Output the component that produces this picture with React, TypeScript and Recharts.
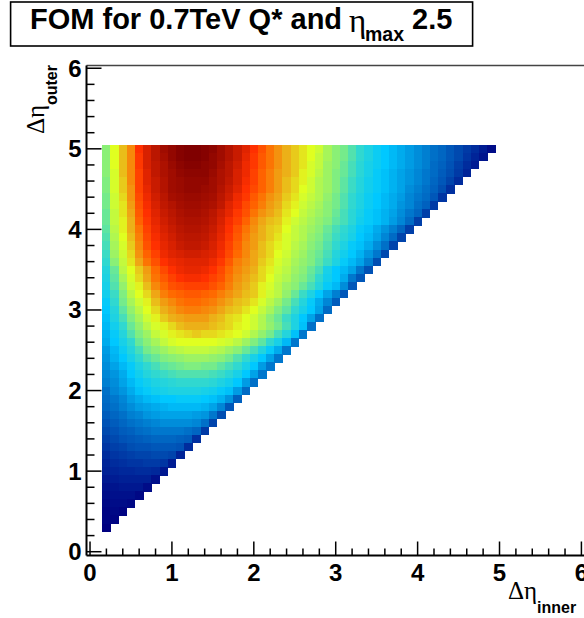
import React from 'react';
import { ScatterChart, Scatter, XAxis, YAxis, ReferenceLine } from 'recharts';

// Bin centres of the FOM map
const xBins = [0.2,0.3,0.4,0.5,0.6,0.7,0.8,0.9,1.0,1.1,1.2,1.3,1.4,1.5,1.6,1.7,1.8,1.9,2.0,2.1,2.2,2.3,2.4,2.5,2.6,2.7,2.8,2.9,3.0,3.1,3.2,3.3,3.4,3.5,3.6,3.7,3.8,3.9,4.0,4.1,4.2,4.3,4.4,4.5,4.6,4.7,4.8,4.9];
const yBins = [5.0,4.9,4.8,4.7,4.6,4.5,4.4,4.3,4.2,4.1,4.0,3.9,3.8,3.7,3.6,3.5,3.4,3.3,3.2,3.1,3.0,2.9,2.8,2.7,2.6,2.5,2.4,2.3,2.2,2.1,2.0,1.9,1.8,1.7,1.6,1.5,1.4,1.3,1.2,1.1,1.0,0.9,0.8,0.7,0.6,0.5,0.4,0.3];

// FOM, one row per yBins entry, in percent of the maximum
const fomRows = [
  [53,62,67,72,82,87,91,95,97,99,100,100,99,98,95,92,89,86,82,78,74,71,68,66,64,62,60,56,53,51,48,45,42,39,37,35,33,31,29,27,25,23,20,17,14,11,7,3],
  [53,62,67,72,81,87,91,94,97,99,100,100,99,97,95,92,89,85,81,77,74,71,68,66,64,62,59,56,53,51,48,45,42,39,37,35,33,31,29,27,25,23,20,17,13,9,5],
  [53,62,67,72,81,87,90,93,96,98,99,99,98,97,94,91,88,84,81,77,74,71,68,66,64,61,59,55,53,50,47,44,41,39,37,35,33,31,29,27,24,22,19,15,11,7],
  [53,61,67,72,80,86,90,93,95,97,98,98,98,96,93,91,87,84,80,76,73,70,68,66,63,61,58,55,52,50,47,44,41,38,36,34,32,30,28,26,24,21,18,14,9],
  [52,61,66,72,80,86,89,92,95,96,97,97,97,95,93,90,87,83,80,76,73,70,67,65,63,60,57,55,52,49,46,43,40,38,36,34,32,30,28,26,23,20,16,11],
  [52,61,66,71,80,85,89,92,95,96,97,97,96,95,92,89,86,82,79,76,73,70,67,65,62,60,57,55,52,49,46,43,40,38,36,34,32,29,27,25,22,18,12],
  [51,60,65,71,79,84,88,91,94,95,96,96,95,94,91,88,84,81,77,74,71,69,66,64,61,59,57,54,51,48,45,42,39,37,35,33,31,28,26,24,20,13],
  [51,60,64,70,78,83,87,90,92,94,95,95,94,93,90,86,83,79,76,73,70,68,65,63,60,58,56,53,51,48,45,42,39,37,35,33,30,28,25,22,14],
  [50,59,64,69,77,82,86,89,91,93,94,94,93,91,88,85,81,78,74,71,69,67,64,62,59,57,55,53,50,47,44,41,38,36,34,32,29,26,23,15],
  [50,59,63,68,76,81,85,88,90,92,93,93,92,90,87,83,80,76,72,69,67,66,63,60,58,56,54,52,49,47,44,40,38,36,34,31,28,24,15],
  [49,58,63,68,74,80,84,87,89,91,92,92,91,89,86,82,78,74,71,68,66,65,62,59,57,55,53,50,47,45,42,38,36,33,30,27,23,15],
  [48,57,62,67,73,79,83,86,88,90,91,91,90,88,85,81,77,73,70,68,66,64,61,59,57,54,52,49,46,44,41,37,35,32,28,24,16],
  [47,56,61,66,72,78,82,85,87,89,90,90,89,87,84,80,76,72,70,67,65,63,61,58,56,53,51,48,45,42,38,36,33,29,25,16],
  [46,55,60,65,71,76,80,84,86,87,88,88,87,86,83,79,75,72,69,67,65,62,60,57,55,52,50,47,43,40,37,34,30,26,17],
  [45,53,59,64,69,74,78,82,84,85,86,86,86,84,81,77,73,71,69,66,64,61,59,56,54,52,49,46,42,38,35,32,27,18],
  [43,50,58,62,66,70,75,79,82,84,85,85,84,82,79,75,72,70,68,65,63,60,58,55,53,50,47,41,37,35,32,26,19],
  [42,49,56,61,65,69,74,77,80,82,83,83,82,80,78,74,71,69,67,65,62,59,57,54,52,49,45,40,37,33,26,20],
  [41,48,54,60,63,67,72,75,78,79,80,80,80,78,76,73,70,68,66,63,61,58,55,53,50,47,43,38,35,29,20],
  [40,46,52,58,62,65,69,73,75,76,77,77,76,75,73,71,69,67,66,63,60,58,54,50,46,42,37,32,27,20],
  [38,45,51,56,60,63,67,70,72,74,75,75,74,73,71,69,67,66,64,61,58,55,51,47,43,38,33,28,21],
  [37,43,49,54,58,62,65,68,70,72,73,73,72,71,69,67,66,64,62,59,56,52,49,45,41,37,32,24],
  [36,42,47,52,56,60,63,66,68,69,70,70,70,68,67,65,64,62,60,57,53,50,46,42,37,32,25],
  [35,40,45,50,54,58,61,63,65,67,68,68,68,67,66,65,63,62,60,57,54,51,47,42,36,25],
  [34,38,43,48,52,55,59,61,63,64,65,66,65,65,64,63,62,60,57,54,51,47,43,36,26],
  [33,37,41,45,50,53,56,59,61,62,62,62,62,62,61,60,58,55,52,49,45,41,35,26],
  [31,35,39,43,47,51,53,55,57,58,59,59,59,58,57,55,53,50,47,43,38,33,26],
  [30,34,37,41,45,48,50,52,53,54,55,55,55,54,53,51,48,45,41,37,32,26],
  [29,32,35,38,42,45,47,49,50,51,52,52,51,51,49,47,45,41,37,31,26],
  [28,30,33,37,40,43,45,46,47,48,48,48,48,47,46,44,41,37,32,26],
  [27,29,32,35,38,40,42,43,44,45,45,45,45,44,42,40,37,31,25],
  [25,28,30,33,36,38,40,41,42,42,42,42,41,40,38,36,31,24],
  [24,26,28,31,33,35,36,37,37,38,38,38,37,36,34,30,22],
  [23,25,27,29,31,32,33,34,35,35,35,35,34,32,28,20],
  [21,23,25,27,28,30,31,32,32,32,32,31,30,26,18],
  [19,21,23,25,26,27,28,29,29,29,29,28,25,16],
  [17,19,21,22,24,25,26,26,26,26,25,23,14],
  [15,17,19,20,21,22,23,23,23,22,21,12],
  [13,15,16,18,19,19,20,20,20,19,11],
  [11,13,14,15,16,16,17,17,16,9],
  [9,11,12,13,13,14,14,13,7],
  [8,9,10,10,11,11,10,6],
  [6,7,8,8,8,8,4],
  [4,5,6,6,6,3],
  [3,4,4,4,2],
  [2,3,3,2],
  [1,2,1],
  [1,1],
  [0],
];

const xTicks = [0,0.2,0.4,0.6,0.8,1,1.2,1.4,1.6,1.8,2,2.2,2.4,2.6,2.8,3,3.2,3.4,3.6,3.8,4,4.2,4.4,4.6,4.8,5,5.2,5.4,5.6,5.8,6];
const yTicks = xTicks;

// Palette stops: [level, r, g, b]
const PALETTE = [
  [0, 0, 0, 128],
  [12, 0, 48, 160],
  [25, 0, 112, 200],
  [37, 0, 200, 255],
  [45, 48, 216, 208],
  [52, 128, 238, 128],
  [62, 224, 255, 32],
  [68, 236, 176, 24],
  [75, 255, 106, 0],
  [82, 255, 48, 0],
  [90, 192, 24, 0],
  [100, 128, 0, 0],
];

const levelColor = (v: number): string => {
  for (let i = 1; i < PALETTE.length; i++) {
    const a = PALETTE[i - 1];
    const b = PALETTE[i];
    if (v <= b[0]) {
      const t = (v - a[0]) / (b[0] - a[0]);
      const mix = (k: number) => Math.round(a[k] + (b[k] - a[k]) * t);
      return `rgb(${mix(1)},${mix(2)},${mix(3)})`;
    }
  }
  return 'rgb(128,0,0)';
};

const cells = fomRows.flatMap((row, r) =>
  row.map((fom, c) => ({ x: xBins[c], y: yBins[r], fom }))
);

const CHART_W = 600;
const CHART_H = 618;
const AXIS_H = 40;
const AXIS_W = 60;
const margin = { top: 65.5, right: 10.4, bottom: 62.5 - AXIS_H, left: 86.5 - AXIS_W };
const xDomain = [-0.043, 6.1];
const yDomain = [-0.047, 6.034];
const plotW = 600 - 86.5 - 10.4;
const plotH = 618 - 65.5 - 62.5;
const binW = (0.1 * plotW) / (xDomain[1] - xDomain[0]);
const binH = (0.1 * plotH) / (yDomain[1] - yDomain[0]);

const HELV = '"Liberation Sans", Arial, sans-serif';
const SERIF = '"Liberation Serif", "DejaVu Serif", serif';

const CellMark = (props: any) => (
  <rect
    x={props.cx - binW / 2}
    y={props.cy - binH / 2}
    width={binW + 0.4}
    height={binH + 0.4}
    fill={levelColor(props.payload.fom)}
    shapeRendering="crispEdges"
  />
);

const isMajor = (v: number) => Number.isInteger(v);

const XTick = ({ x, y, payload }: any) => {
  const major = isMajor(payload.value);
  return (
    <g>
      <line x1={x} x2={x} y1={y} y2={y - (major ? 14 : 7)} stroke="#000" strokeWidth={1.5} />
      {major && (
        <text x={x} y={y + 25} textAnchor="middle" fontFamily={HELV} fontWeight="bold" fontSize={24} fill="#000">
          {payload.value}
        </text>
      )}
    </g>
  );
};

const YTick = ({ x, y, payload }: any) => {
  const major = isMajor(payload.value);
  return (
    <g>
      <line x1={x} x2={x + (major ? 15 : 8)} y1={y} y2={y} stroke="#000" strokeWidth={1.5} />
      {major && (
        <text x={x - 5} y={y + 8.5} textAnchor="end" fontFamily={HELV} fontWeight="bold" fontSize={24} fill="#000">
          {payload.value}
        </text>
      )}
    </g>
  );
};

export default function App() {
  return (
    <div style={{ position: 'absolute', left: 0, top: 0, width: 584, height: 618, overflow: 'hidden', background: '#fff' }}>
      <ScatterChart width={CHART_W} height={CHART_H} margin={margin}>
        <XAxis
          type="number"
          dataKey="x"
          domain={xDomain}
          ticks={xTicks}
          interval={0}
          height={AXIS_H}
          tickSize={0}
          tickMargin={0}
          tickLine={false}
          tick={<XTick />}
          axisLine={{ stroke: '#000', strokeWidth: 2 }}
          allowDataOverflow
        />
        <YAxis
          type="number"
          dataKey="y"
          domain={yDomain}
          ticks={yTicks}
          interval={0}
          width={AXIS_W}
          tickSize={0}
          tickMargin={0}
          tickLine={false}
          tick={<YTick />}
          axisLine={{ stroke: '#000', strokeWidth: 2 }}
          allowDataOverflow
        />
        <ReferenceLine y={yDomain[1]} stroke="#444" strokeWidth={1.5} />
        <Scatter data={cells} shape={<CellMark />} isAnimationActive={false} />
      </ScatterChart>

      <svg width={584} height={618} style={{ position: 'absolute', left: 0, top: 0, pointerEvents: 'none' }}>
        <rect x={10.6} y={2} width={462} height={44} fill="#fff" stroke="#000" strokeWidth={1.6} />
        <text x={30} y={29} fontFamily={HELV} fontWeight="bold" fontSize={29} fill="#000">
          FOM for 0.7TeV Q* and
        </text>
        <text x={349} y={32} fontFamily={SERIF} fontSize={33} fill="#000">η</text>
        <text x={365} y={41} fontFamily={HELV} fontWeight="bold" fontSize={19.5} fill="#000">max</text>
        <text x={412} y={29} fontFamily={HELV} fontWeight="bold" fontSize={29} fill="#000">2.5</text>

        <g transform="translate(44,134) rotate(-90)">
          <text x={0} y={0} fontFamily={SERIF} fontSize={25} fill="#000">Δη</text>
          <text x={29} y={13} fontFamily={HELV} fontWeight="bold" fontSize={16} fill="#000">outer</text>
        </g>

        <text x={508} y={599} fontFamily={SERIF} fontSize={25} fill="#000">Δη</text>
        <text x={537} y={613} fontFamily={HELV} fontWeight="bold" fontSize={16} fill="#000">inner</text>
      </svg>
    </div>
  );
}
